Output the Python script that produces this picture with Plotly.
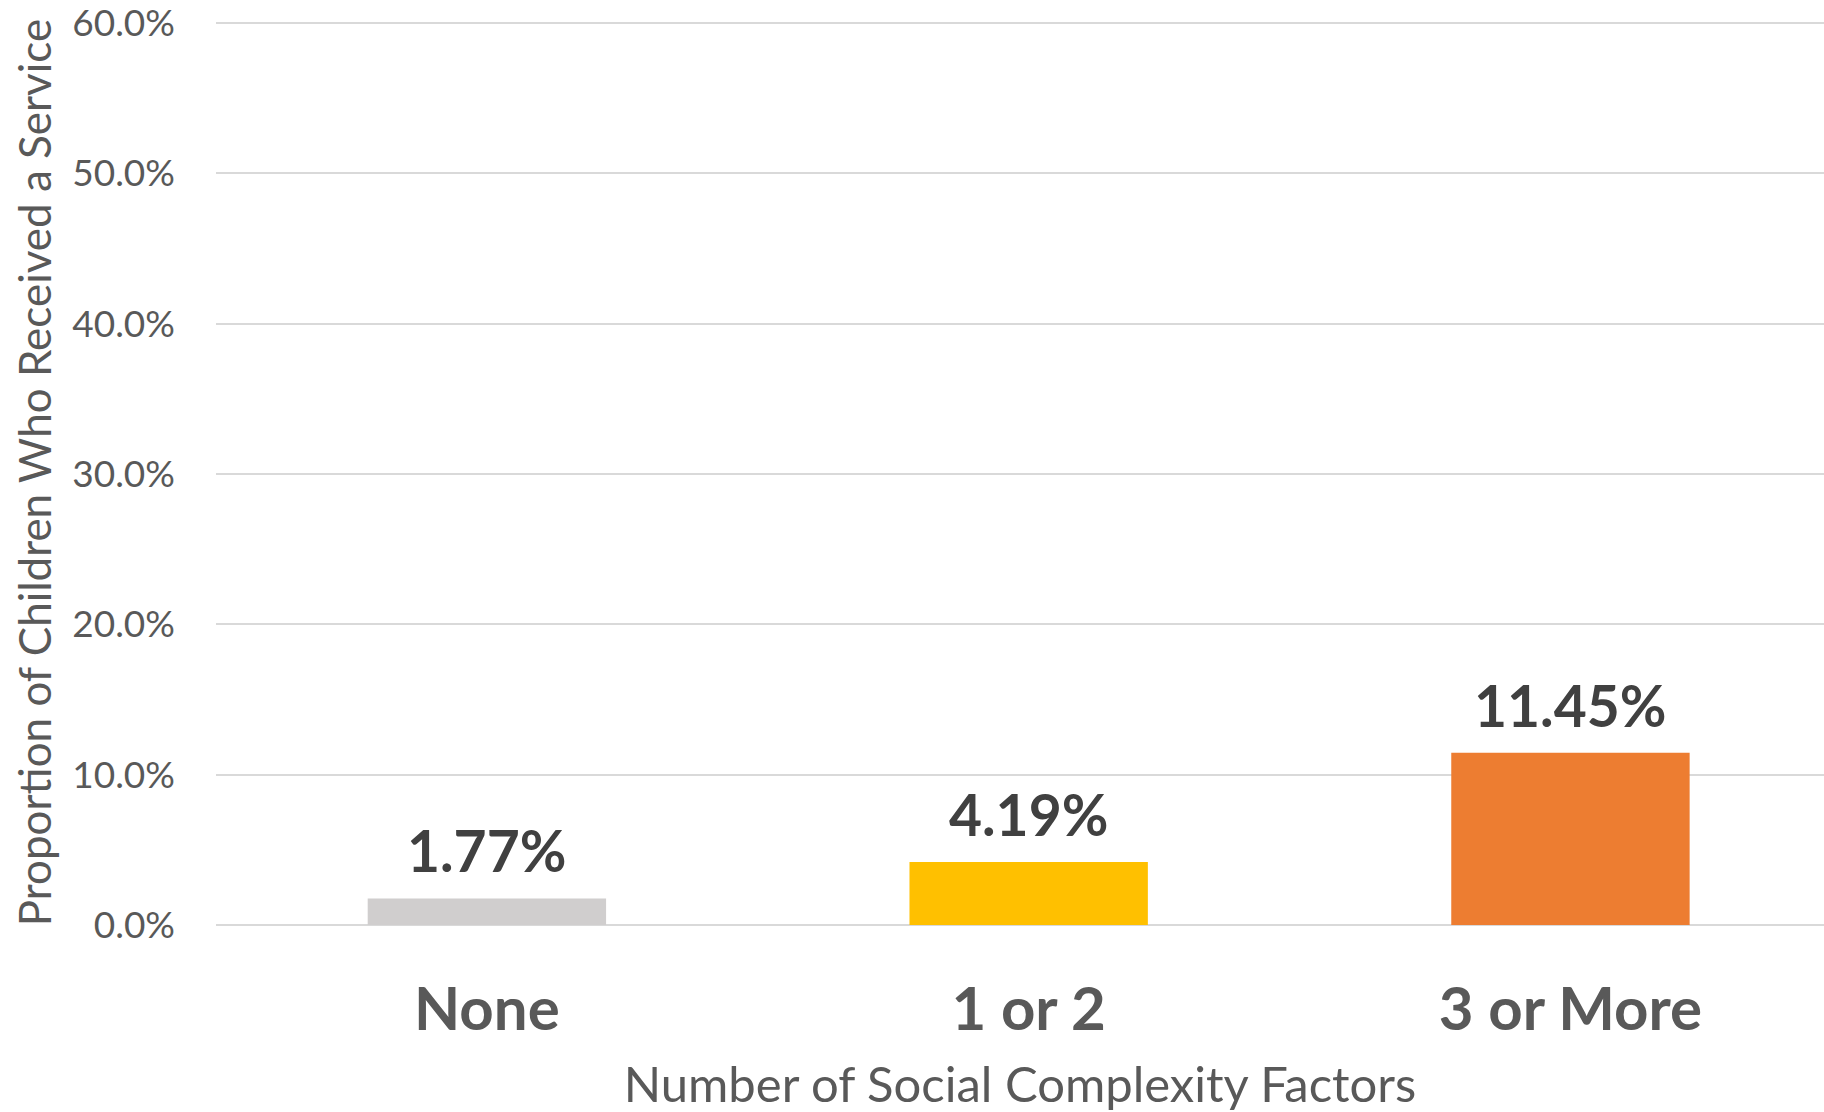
import plotly.graph_objects as go

categories = ["None", "1 or 2", "3 or More"]
values = [1.77, 4.19, 11.45]
colors = ["#D0CECE", "#FFC000", "#ED7D31"]
y_ticks = [0, 10, 20, 30, 40, 50, 60]
y_tick_labels = ["0.0%", "10.0%", "20.0%", "30.0%", "40.0%", "50.0%", "60.0%"]

fig = go.Figure()
fig.add_trace(go.Bar(
    x=categories, y=values, marker=dict(color=colors, line=dict(width=0)),
    width=0.44, hoverinfo="skip", showlegend=False,
))

for c, v in zip(categories, values):
    fig.add_annotation(
        x=c, y=v, text=f"{v:.2f}%", showarrow=False, yanchor="bottom",
        yshift=12, font=dict(family="Lato", size=57, color="#404040", weight="bold"),
    )

fig.update_layout(
    width=1824, height=1112,
    margin=dict(l=216, r=0, t=20, b=187),
    paper_bgcolor="white", plot_bgcolor="white",
    font=dict(family="Lato", color="#595959"),
    xaxis=dict(
        range=[-0.5, 2.468], showgrid=False, zeroline=False, showline=False,
        automargin=False,
        tickfont=dict(family="Lato", size=60, color="#595959", weight="bold"),
        ticklabelstandoff=44,
        title=dict(text="Number of Social Complexity Factors",
                   font=dict(family="Lato", size=49, color="#595959"), standoff=28),
    ),
    yaxis=dict(
        range=[0, 60.2], tickvals=y_ticks, ticktext=y_tick_labels,
        showgrid=True, gridcolor="#D9D9D9", gridwidth=2,
        zeroline=True, zerolinecolor="#D9D9D9", zerolinewidth=2,
        showline=False, ticklabeloverflow="allow", automargin=False,
        tickfont=dict(family="Lato", size=37, color="#595959"),
        ticklabelstandoff=40,
        title=dict(text="Proportion of Children Who Received a Service",
                   font=dict(family="Lato", size=44, color="#595959"), standoff=6),
    ),
)

fig.write_html(
    "out.html",
    config={"displayModeBar": False},
    post_script="document.body.style.margin='0';document.body.style.overflow='hidden';",
)
